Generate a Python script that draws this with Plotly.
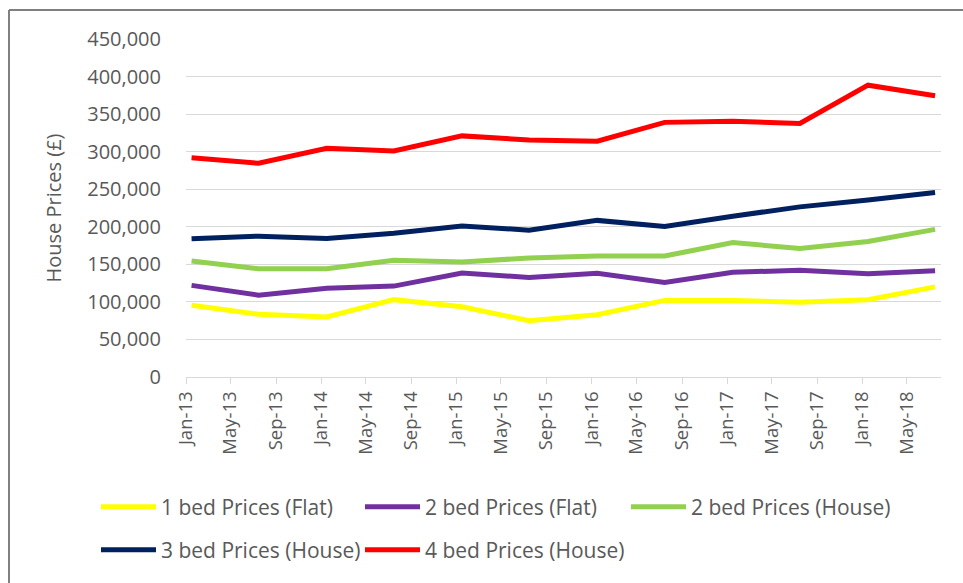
import plotly.graph_objects as go

dates = ["2013-01-16", "2013-07-16", "2014-01-16", "2014-07-16", "2015-01-16", "2015-07-16",
         "2016-01-16", "2016-07-16", "2017-01-16", "2017-07-16", "2018-01-16", "2018-07-16"]

one_bed_flat = [95500, 83500, 80000, 103000, 93500, 75000, 83000, 102000, 102000, 99500, 103000, 120000]
two_bed_flat = [122000, 109000, 118000, 121000, 138500, 132500, 138000, 126000, 139500, 142000, 137500, 141500]
two_bed_house = [154500, 144000, 144000, 155500, 153000, 158500, 161000, 161000, 179000, 171000, 180500, 196500]
three_bed_house = [184000, 187500, 184500, 191500, 201000, 195500, 208500, 200500, 214000, 226500, 235500, 245500]
four_bed_house = [292000, 284500, 304500, 301000, 321000, 315500, 314000, 339000, 340500, 337500, 388500, 374500]

series_names = ["1 bed Prices (Flat)", "2 bed Prices (Flat)", "2 bed Prices (House)",
                "3 bed Prices (House)", "4 bed Prices (House)"]
series_values = [one_bed_flat, two_bed_flat, two_bed_house, three_bed_house, four_bed_house]
series_colors = ["#FFFF00", "#7030A0", "#92D050", "#002060", "#FF0000"]

# legend entry placement (container pixels): (left, vertical centre)
legend_pos = [(96, 507), (360, 507), (626, 507), (96, 550), (360, 550)]
legend_ids = ["legend", "legend2", "legend3", "legend4", "legend5"]

FONT = "Open Sans"
GREY = "#595959"
W, H = 963, 583

fig = go.Figure()
for name, vals, color, leg in zip(series_names, series_values, series_colors, legend_ids):
    fig.add_trace(go.Scatter(
        x=dates, y=vals, name=name, mode="lines",
        line=dict(color=color, width=5, shape="linear"),
        legend=leg,
    ))

legend_layout = {}
for leg, (lx, ly) in zip(legend_ids, legend_pos):
    legend_layout[leg] = dict(
        orientation="h",
        xref="container", yref="container",
        xanchor="left", yanchor="middle",
        x=lx / W, y=1 - ly / H,
        font=dict(family=FONT, size=21, color=GREY),
        itemwidth=55,
        bgcolor="rgba(0,0,0,0)",
        borderwidth=0,
    )

fig.update_layout(
    width=W, height=H,
    paper_bgcolor="white", plot_bgcolor="white",
    margin=dict(l=186, r=22, t=39, b=206),
    font=dict(family=FONT, size=18, color=GREY),
    xaxis=dict(
        type="date",
        range=["2013-01-01", "2018-08-01"],
        tick0="2013-01-01", dtick="M4", tickformat="%b-%y",
        tickangle=-90,
        showgrid=False,
        showline=True, linecolor="#d9d9d9", linewidth=1,
        ticks="outside", ticklen=6, tickcolor="#d9d9d9",
        tickfont=dict(family=FONT, size=18.5, color=GREY),
        zeroline=False,
    ),
    yaxis=dict(
        range=[0, 450000], dtick=50000, tickformat=",d",
        showgrid=True, gridcolor="#d9d9d9", gridwidth=1,
        zeroline=False, showline=False,
        tickfont=dict(family=FONT, size=20, color=GREY),
        ticklabelstandoff=24,
        title=dict(text="House Prices (£)", font=dict(family=FONT, size=20, color=GREY), standoff=20),
    ),
    showlegend=True,
    **legend_layout,
)

# chart border (left and top edges visible)
px0, py0, pw, ph = 186, 39, W - 186 - 22, H - 39 - 206
def pxx(v):
    return (v - px0) / pw
def pyy(v):
    return (py0 + ph - v) / ph

fig.add_shape(type="line", xref="paper", yref="paper",
              x0=pxx(9), x1=pxx(9), y0=pyy(10), y1=pyy(600),
              line=dict(color="#808080", width=2))
fig.add_shape(type="line", xref="paper", yref="paper",
              x0=pxx(9), x1=pxx(980), y0=pyy(10), y1=pyy(10),
              line=dict(color="#808080", width=2))

fig.write_html("out.html", config={"displayModeBar": False},
               post_script="document.body.style.margin='0';document.body.style.padding='0';")
